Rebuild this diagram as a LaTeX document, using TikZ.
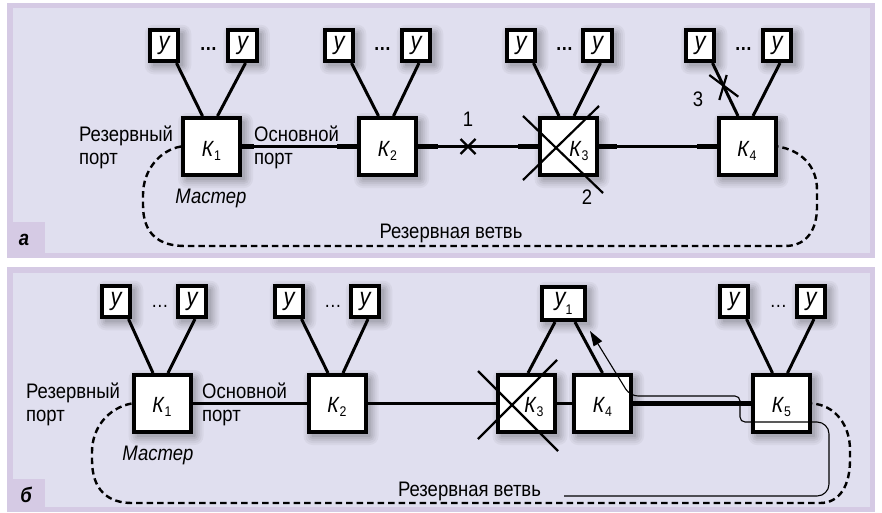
\documentclass[tikz,border=0pt]{standalone}
\usepackage{fontspec}
\setmainfont{Liberation Sans}[FakeStretch=0.88]
\usetikzlibrary{arrows.meta,calc}
\definecolor{pbord}{RGB}{213,202,228}
\definecolor{pinner}{RGB}{224,223,239}
\newcommand\Klab[1]{\textit{К}\raisebox{-3.5pt}{\fontsize{14}{14}\selectfont #1}}
\newcommand\Ylab[1]{у\raisebox{-9.5pt}{\fontsize{14}{14}\selectfont\upshape #1}}
\begin{document}
\begin{tikzpicture}[x=1pt,y=-1pt,
  txt/.style={font=\fontsize{21}{24}\selectfont, inner sep=0pt},
  txtbw/.style={txt, anchor=base west},
  txtb/.style={txt, anchor=base},
  klab/.style={font=\fontsize{22}{24}\selectfont, inner sep=0pt, anchor=base},
  plab/.style={font=\fontsize{21}{24}\selectfont\bfseries\itshape, inner sep=0pt, anchor=base},
  dotsn/.style={font=\fontsize{20}{20}\selectfont\bfseries, inner sep=0pt, anchor=base},
  kbox/.style={draw,fill=white,line width=4pt,minimum width=57pt,minimum height=57pt,inner sep=0pt},
  ybox/.style={draw,fill=white,line width=3.6pt,minimum width=28.5pt,minimum height=31.5pt,inner sep=0pt,
               font=\fontsize{25}{25}\selectfont\itshape},
  conn/.style={line width=3pt},
  mainl/.style={line width=2.4pt},
  stub/.style={line width=4.5pt},
  xmark/.style={line width=2.2pt},
  resv/.style={line width=2.4pt, dash pattern=on 6.5pt off 4pt},
  tpath/.style={line width=1.1pt},
]
\useasboundingbox (0,0) rectangle (882,512);
% ===== panels =====
\fill[white] (0,0) rectangle (882,512);
\fill[pbord] (7,3) rectangle (875,258);
\fill[pinner] (13,8) rectangle (870,253);
\fill[pbord] (7,222) rectangle (45,258);
\fill[pbord] (7,267) rectangle (875,512);
\fill[pinner] (13,273) rectangle (870,507);
\fill[pbord] (7,479) rectangle (45,512);
\node[plab] (la) at (24,245) {а};
\node[plab] (lb) at (26,502) {б};
% ===== soft shadows (solid tints, outer to inner) =====
\foreach \e/\c in {9/96,7/92,5/87,3/82,1/76}{
  \foreach \x/\y/\w/\h in {211.5/146.5/28.5/28.5, 387.5/146.5/28.5/28.5, 568/146.5/28.5/28.5, 747/146.5/28.5/28.5,
      164/45.5/14.25/15.75, 242.5/45.5/14.25/15.75, 339/45.5/14.25/15.75, 416/45.5/14.25/15.75,
      521/45.5/14.25/15.75, 597.5/45.5/14.25/15.75, 700/45.5/14.25/15.75, 777/45.5/14.25/15.75,
      162/403.5/28.5/28.5, 337/403.5/28.5/28.5, 526/403.5/28.5/28.5, 602.5/403.5/28.5/28.5, 781.5/403.5/28.5/28.5,
      116/301.5/14.25/15.75, 192/301.5/14.25/15.75, 289/301.5/14.25/15.75, 365/301.5/14.25/15.75,
      734/301.5/14.25/15.75, 811/301.5/14.25/15.75, 563.5/303.5/21.75/16.75}{
    \fill[pinner!\c!black, rounded corners=\e pt] (\x+4-\w-\e, \y+4+\h+\e) rectangle (\x+4+\w+\e, \y+4-\h-\e);
  }
}

% ================= panel a =================
\node[kbox] (aK1) at (211.5,146.5) {};
\node[kbox] (aK2) at (387.5,146.5) {};
\node[kbox] (aK3) at (568,146.5) {};
\node[kbox] (aK4) at (747,146.5) {};
\node[ybox] (aY1l) at (164,45.5) {у};
\node[ybox] (aY1r) at (242.5,45.5) {у};
\node[ybox] (aY2l) at (339,45.5) {у};
\node[ybox] (aY2r) at (416,45.5) {у};
\node[ybox] (aY3l) at (521,45.5) {у};
\node[ybox] (aY3r) at (597.5,45.5) {у};
\node[ybox] (aY4l) at (700,45.5) {у};
\node[ybox] (aY4r) at (777,45.5) {у};
\node[dotsn] (aD1) at (208.5,50) {…};
\node[dotsn] (aD2) at (382.5,50) {…};
\node[dotsn] (aD3) at (564.5,50) {…};
\node[dotsn] (aD4) at (743.5,50) {…};

\node[klab] (aK1t) at ([yshift=-10pt]aK1.center) {\Klab{1}};
\node[klab] (aK2t) at ([yshift=-10pt]aK2.center) {\Klab{2}};
\node[klab] (aK3t) at ([xshift=11pt,yshift=-10pt]aK3.center) {\Klab{3}};
\node[klab] (aK4t) at ([yshift=-10pt]aK4.center) {\Klab{4}};

\foreach \k in {1,2,3,4}{
  \draw[conn] ([xshift=12.5pt]aY\k l.south) -- ([xshift=-9pt]aK\k.north);
  \draw[conn] ([xshift=3pt]aY\k r.south) -- ([xshift=6pt]aK\k.north);
}
% main line
\draw[mainl] (aK1.east) -- (aK2.west);
\draw[mainl] (aK2.east) -- (aK3.west);
\draw[mainl] (aK3.east) -- (aK4.west);
\draw[stub] (aK1.east) -- ++(12,0);
\draw[stub] (aK2.west) -- ++(-20,0);
\draw[stub] (aK2.east) -- ++(20,0);
\draw[stub] (aK3.west) -- ++(-20,0);
\draw[stub] (aK3.east) -- ++(18,0);
\draw[stub] (aK4.west) -- ++(-20,0);
% break 1
\coordinate (c1) at (468,146.5);
\draw[xmark] ($(c1)+(-7.5,-7.5)$) -- ($(c1)+(7.5,7.5)$);
\draw[xmark] ($(c1)+(-7.5,7.5)$) -- ($(c1)+(7.5,-7.5)$);
\node[txtb] (n1) at (468,126) {1};
% failure 2
\draw[xmark] ($(aK3.center)+(-45,-30.5)$) -- ($(aK3.center)+(35,46.5)$);
\draw[xmark] ($(aK3.center)+(-45,33.5)$) -- ($(aK3.center)+(31,-40.5)$);
\node[txtb] (n2) at (587,204) {2};
% break 3
\draw[xmark] (709.3,75) -- (738.3,96.7);
\draw[xmark] (719.3,100) -- (726.7,75);
\node[txtb] (n3) at (698,106) {3};
% reserve branch a
\draw[resv] (aK1.west) .. controls (160,150) and (143,170) .. (143,195) -- (143,205)
  .. controls (143,235) and (160,246) .. (185,246) -- (785,246)
  .. controls (808,246) and (817,228) .. (817,207) -- (817,190)
  .. controls (817,165) and (800,150) .. (aK4.east);
% texts a
\node[txtbw] (aR1) at (79,141) {Резервный};
\node[txtbw] (aR2) at (79,164) {порт};
\node[txtbw] (aO1) at (254,141) {Основной};
\node[txtbw] (aO2) at (254,164) {порт};
\node[txtb,font=\fontsize{21}{24}\selectfont\itshape] (aM) at (211,203) {Мастер};
\node[txtb] (aRV) at (451,238) {Резервная ветвь};

% ================= panel b =================
\node[kbox] (bK1) at (162,403.5) {};
\node[kbox] (bK2) at (337,403.5) {};
\node[kbox] (bK3) at (526,403.5) {};
\node[kbox] (bK4) at (602.5,403.5) {};
\node[kbox] (bK5) at (781.5,403.5) {};
\node[ybox] (bY1l) at (116,301.5) {у};
\node[ybox] (bY1r) at (192,301.5) {у};
\node[ybox] (bY2l) at (289,301.5) {у};
\node[ybox] (bY2r) at (365,301.5) {у};
\node[ybox] (bY5l) at (734,301.5) {у};
\node[ybox] (bY5r) at (811,301.5) {у};
\node[ybox,minimum width=43.5pt,minimum height=33.5pt] (bU1) at (563.5,303.5) {\Ylab{1}};
\node[dotsn,font=\fontsize{20}{20}\selectfont] (bD1) at (160,307) {…};
\node[dotsn,font=\fontsize{20}{20}\selectfont] (bD2) at (333,307) {…};
\node[dotsn,font=\fontsize{20}{20}\selectfont] (bD5) at (778.5,307) {…};

\node[klab] (bK1t) at ([yshift=-9pt]bK1.center) {\Klab{1}};
\node[klab] (bK2t) at ([yshift=-9pt]bK2.center) {\Klab{2}};
\node[klab] (bK3t) at ([xshift=8pt,yshift=-9pt]bK3.center) {\Klab{3}};
\node[klab] (bK4t) at ([yshift=-9pt]bK4.center) {\Klab{4}};
\node[klab] (bK5t) at ([yshift=-9pt]bK5.center) {\Klab{5}};

\foreach \k in {1,2,5}{
  \draw[conn] ([xshift=12.5pt]bY\k l.south) -- ([xshift=-9pt]bK\k.north);
  \draw[conn] ([xshift=3pt]bY\k r.south) -- ([xshift=6pt]bK\k.north);
}
\draw[conn] ([xshift=-8.5pt]bU1.south) -- ([xshift=2pt]bK3.north);
\draw[conn] ([xshift=11.5pt]bU1.south) -- (bK4.north);
% main line b
\draw[line width=2.8pt] (bK1.east) -- (bK2.west);
\draw[line width=2.8pt] (bK2.east) -- (bK3.west);
\draw[line width=3.2pt] (bK3.east) -- (bK4.west);
\draw[stub] (bK4.east) -- (bK5.west);
% failure K3 b
\draw[xmark] ($(bK3.center)+(-48,-32.5)$) -- ($(bK3.center)+(32,47.5)$);
\draw[xmark] ($(bK3.center)+(-48,35.5)$) -- ($(bK3.center)+(31,-43.5)$);
% reserve branch b
\draw[resv] (bK1.west) .. controls (108,408) and (92,428) .. (92,452) -- (92,460)
  .. controls (92,490) and (108,503) .. (132,503) -- (820,503)
  .. controls (840,503) and (850,485) .. (850,460) -- (850,450)
  .. controls (850,425) and (835,405) .. (bK5.east);
% signal path
\coordinate (tS) at (564,496);
\coordinate (tE) at (590,331);
\coordinate (tB) at (597.9,343.8);
\draw[tpath] (tS) [rounded corners=12pt] -- (829,496) -- (829,422)
  [rounded corners=5pt] -- (740,422) -- (740,396) [rounded corners=8pt] -- (630,396) -- (tB);
\fill (tE) -- (602.2,341.2) -- (593.6,346.4) -- cycle;
% texts b
\node[txtbw] (bR1) at (26,398) {Резервный};
\node[txtbw] (bR2) at (26,421) {порт};
\node[txtbw] (bO1) at (202,398) {Основной};
\node[txtbw] (bO2) at (202,421) {порт};
\node[txtb,font=\fontsize{21}{24}\selectfont\itshape] (bM) at (158,460) {Мастер};
\node[txtb] (bRV) at (469.5,496) {Резервная ветвь};
\end{tikzpicture}
\end{document}
